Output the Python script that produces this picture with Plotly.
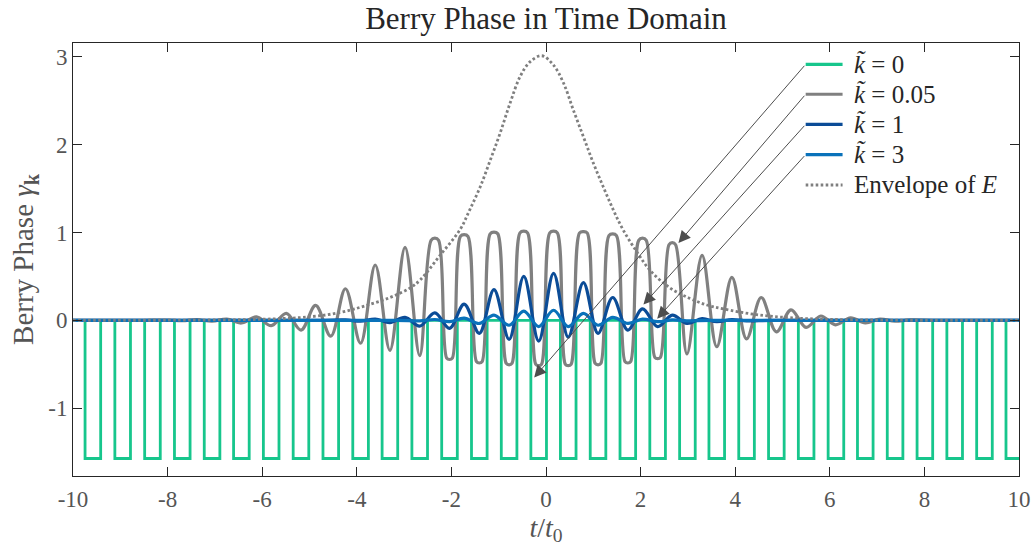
import plotly.graph_objects as go

# ---------------- data ----------------
# k=0 : square pulses down to -pi/2 (centres of the pulses, t/t0)
k0_pulse_centers = [-9.58, -8.95, -8.32, -7.69, -7.06, -6.44, -5.81, -5.18,
                    -4.55, -3.92, -3.30, -2.67, -2.04, -1.41, -0.78, -0.155,
                    0.47, 1.10, 1.73, 2.36, 2.99, 3.61, 4.24, 4.87,
                    5.50, 6.13, 6.75, 7.38, 8.01, 8.64, 9.27, 9.89]
k0_pulse_halfwidth = 0.165
k0_low = -1.571

# k=0.05
g_x = [-10, -8.6, -8.01, -7.69, -7.38, -7.06, -6.75, -6.44, -6.12, -5.81,
       -5.49, -5.18, -4.87, -4.55, -4.24, -3.92, -3.61, -3.30, -2.98, -2.67,
       -2.43, -2.35, -2.27, -2.10, -2.04, -1.98,
       -1.81, -1.73, -1.65, -1.47, -1.41, -1.35,
       -1.18, -1.10, -1.02, -0.84, -0.78, -0.72,
       -0.55, -0.47, -0.39, -0.215, -0.155, -0.095,
       0.08, 0.16, 0.24, 0.41, 0.47, 0.53,
       0.71, 0.79, 0.87, 1.04, 1.10, 1.16,
       1.33, 1.41, 1.49, 1.67, 1.73, 1.79,
       1.96, 2.04, 2.12, 2.30, 2.36, 2.42,
       2.60, 2.67, 2.74, 2.98, 3.30, 3.61, 3.93, 4.24, 4.55, 4.87,
       5.18, 5.50, 5.81, 6.12, 6.44, 6.75, 7.06, 7.38, 7.69, 8.3, 10]
g_y = [0, 0, 0.004, -0.004, 0.008, -0.01, 0.015, -0.03, 0.04, -0.06,
       0.08, -0.11, 0.17, -0.18, 0.36, -0.26, 0.63, -0.34, 0.83, -0.40,
       0.91, 0.935, 0.91, -0.43, -0.445, -0.43,
       0.955, 0.975, 0.955, -0.47, -0.485, -0.47,
       0.985, 1.005, 0.985, -0.49, -0.505, -0.49,
       0.995, 1.015, 0.995, -0.50, -0.515, -0.50,
       0.995, 1.015, 0.995, -0.50, -0.515, -0.50,
       0.995, 1.01, 0.995, -0.49, -0.505, -0.49,
       0.965, 0.985, 0.965, -0.47, -0.485, -0.47,
       0.91, 0.935, 0.91, -0.42, -0.435, -0.42,
       0.86, 0.885, 0.86, -0.38, 0.74, -0.30, 0.49, -0.21, 0.26, -0.13,
       0.12, -0.08, 0.05, -0.05, 0.03, -0.03, 0.015, -0.01, 0.005, 0, 0]

# k=1
b_x = [-10, -4.8, -4.24, -3.92, -3.61, -3.30, -2.98, -2.67, -2.35, -2.04,
       -1.73, -1.41, -1.10, -0.78, -0.47, -0.155, 0.16, 0.47, 0.79, 1.10,
       1.41, 1.73, 2.04, 2.36, 2.67, 2.98, 3.30, 3.61, 3.93, 4.24, 4.8, 10]
b_y = [0, 0, 0.005, -0.01, 0.015, -0.025, 0.035, -0.065, 0.085, -0.09,
       0.185, -0.147, 0.35, -0.215, 0.50, -0.235, 0.535, -0.19, 0.43, -0.147,
       0.26, -0.11, 0.13, -0.072, 0.06, -0.035, 0.02, -0.015, 0.008, -0.005, 0, 0]

# k=3
c_x = [-10, -3.2, -2.67, -2.35, -2.04, -1.73, -1.41, -1.10, -0.78, -0.47,
       -0.155, 0.16, 0.47, 0.79, 1.10, 1.41, 1.73, 2.04, 2.36, 2.67, 2.98, 3.5, 10]
c_y = [0, 0, -0.005, 0.01, -0.015, 0.025, -0.035, 0.06, -0.055, 0.105,
       -0.07, 0.115, -0.07, 0.08, -0.055, 0.035, -0.035, 0.015, -0.015, 0.005, -0.005, 0, 0]

# envelope of E
e_x = [-10, -8, -7, -6, -5, -4.35, -3.86, -3.30, -2.87, -2.66, -2.24, -1.82,
       -1.61, -1.39, -1.18, -0.97, -0.76, -0.55, -0.34, -0.09, 0.15, 0.37, 0.58,
       0.79, 1.0, 1.21, 1.42, 1.63, 1.92, 2.20, 2.62, 3.04, 3.40, 3.75, 4.45,
       5.16, 6, 7, 8, 10]
e_y = [0, 0.002, 0.005, 0.013, 0.04, 0.09, 0.16, 0.26, 0.37, 0.46, 0.74, 1.03,
       1.26, 1.52, 1.82, 2.13, 2.47, 2.77, 2.94, 3.01, 2.91, 2.70, 2.39,
       2.09, 1.79, 1.52, 1.26, 1.03, 0.78, 0.57, 0.37, 0.25, 0.175, 0.13, 0.065,
       0.03, 0.012, 0.004, 0.001, 0]

series_names = ["<i>k̃</i> = 0", "<i>k̃</i> = 0.05", "<i>k̃</i> = 1", "<i>k̃</i> = 3", "Envelope of <i>E</i>"]
x_ticks = [-10, -8, -6, -4, -2, 0, 2, 4, 6, 8, 10]
x_ticktext = ["-10", "-8", "-6", "-4", "-2", "0", "2", "4", "6", "8", "10"]
y_ticks = [-1, 0, 1, 2, 3]
y_ticktext = ["-1", "0", "1", "2", "3"]

# arrow tips (where each legend entry points to)
arrow_tips = [(-0.25, -0.65), (2.80, 0.88), (2.06, 0.18), (2.35, 0.02)]

# ---------------- styles ----------------
C_GREEN = "#17C68C"
C_GRAY = "#808080"
C_DBLUE = "#0B4C97"
C_LBLUE = "#0A72BA"
C_ENV = "#7F7F7F"
FONT = "Liberation Serif"
DOT = "2.6px,2.4px"

# build square-wave path from the pulse centres
k0_x, k0_y = [-10], [0]
for c in k0_pulse_centers:
    k0_x += [c - k0_pulse_halfwidth, c - k0_pulse_halfwidth, c + k0_pulse_halfwidth, c + k0_pulse_halfwidth]
    k0_y += [0, k0_low, k0_low, 0]
k0_x.append(10)
k0_y.append(0)

fig = go.Figure()
fig.add_trace(go.Scatter(x=k0_x, y=k0_y, mode="lines", name=series_names[0],
                         line=dict(color=C_GREEN, width=2.8), showlegend=False))
fig.add_trace(go.Scatter(x=g_x, y=g_y, mode="lines", name=series_names[1],
                         line=dict(color=C_GRAY, width=3.2, shape="spline", smoothing=1), showlegend=False))
fig.add_trace(go.Scatter(x=b_x, y=b_y, mode="lines", name=series_names[2],
                         line=dict(color=C_DBLUE, width=3.2, shape="spline", smoothing=1), showlegend=False))
fig.add_trace(go.Scatter(x=c_x, y=c_y, mode="lines", name=series_names[3],
                         line=dict(color=C_LBLUE, width=3.2, shape="spline", smoothing=1), showlegend=False))
fig.add_trace(go.Scatter(x=e_x, y=e_y, mode="lines", name=series_names[4],
                         line=dict(color=C_ENV, width=2.8, dash=DOT, shape="spline", smoothing=1), showlegend=False))

# hand-drawn legend (lines + labels) in data coordinates
leg_x0, leg_x1, leg_tx = 5.49, 6.27, 6.47
leg_y = [2.913, 2.572, 2.230, 1.886, 1.540]
leg_colors = [C_GREEN, C_GRAY, C_DBLUE, C_LBLUE, C_ENV]
shapes = []
annotations = []
for i, (yy, col) in enumerate(zip(leg_y, leg_colors)):
    shapes.append(dict(type="line", xref="x", yref="y", x0=leg_x0, x1=leg_x1, y0=yy, y1=yy,
                       line=dict(color=col, width=3.2 if i < 4 else 2.8, dash=DOT if i == 4 else "solid"),
                       layer="above"))
    annotations.append(dict(x=leg_tx, y=yy, xref="x", yref="y", text=series_names[i],
                            showarrow=False, xanchor="left", yanchor="middle",
                            font=dict(family=FONT, size=25, color="#262626")))
for (tx, ty), yy in zip(arrow_tips, leg_y[:4]):
    annotations.append(dict(x=tx, y=ty, ax=leg_x0, ay=yy, xref="x", yref="y", axref="x", ayref="y",
                            text="", showarrow=True, arrowhead=2, arrowsize=2.4, arrowwidth=1,
                            arrowcolor="#4D4D4D", standoff=0))

fig.update_layout(
    width=1034, height=548,
    margin=dict(l=73, r=15, t=43, b=72, autoexpand=False),
    paper_bgcolor="white", plot_bgcolor="white",
    font=dict(family=FONT, color="#555555"),
    title=dict(text="Berry Phase in Time Domain", x=0.5, xref="paper", y=1 - 18 / 548,
               yref="container", yanchor="middle",
               font=dict(family=FONT, size=31, color="#262626")),
    shapes=shapes, annotations=annotations,
)
fig.update_xaxes(range=[-10, 10], tickvals=x_ticks, ticktext=x_ticktext, automargin=False,
                 ticks="inside", ticklen=9, tickcolor="#262626", tickwidth=1, ticklabelstandoff=2,
                 showline=True, linecolor="#262626", linewidth=1, mirror="ticks",
                 showgrid=False, zeroline=False,
                 tickfont=dict(family=FONT, size=23, color="#555555"),
                 title=dict(text="<i>t</i>/<i>t</i><sub>0</sub>", standoff=0,
                            font=dict(family=FONT, size=28, color="#555555")))
fig.update_yaxes(range=[-1.77, 3.155], tickvals=y_ticks, ticktext=y_ticktext, automargin=False,
                 ticks="inside", ticklen=9, tickcolor="#262626", tickwidth=1,
                 showline=True, linecolor="#262626", linewidth=1, mirror="ticks",
                 showgrid=False, zeroline=False,
                 tickfont=dict(family=FONT, size=23, color="#555555"),
                 title=dict(text="Berry Phase <i>γ</i><sub><b>k</b></sub>", standoff=6,
                            font=dict(family=FONT, size=29, color="#555555")))

# remove the page's default body margin so the 1034x548 figure fills the window exactly
fig.write_html("out.html",
               config={"displayModeBar": False},
               post_script="document.body.style.margin='0';document.body.style.overflow='hidden';")
